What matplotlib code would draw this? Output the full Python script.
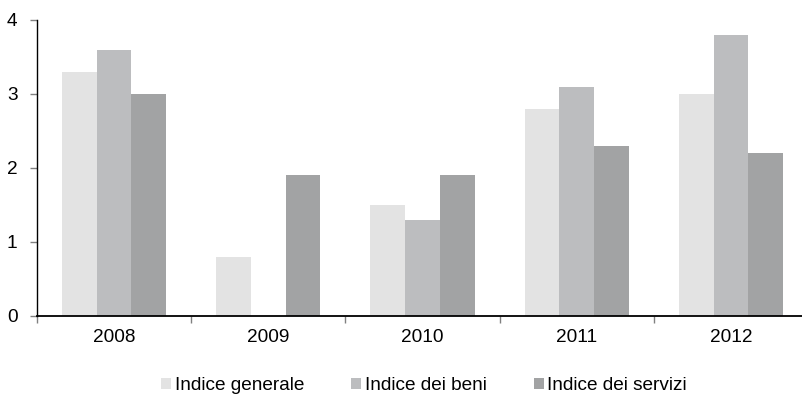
import matplotlib
matplotlib.use("Agg")
import matplotlib.pyplot as plt
import numpy as np

plt.rcParams['font.family'] = ['Liberation Sans', 'DejaVu Sans']

years = ["2008", "2009", "2010", "2011", "2012"]
series_names = ["Indice generale", "Indice dei beni", "Indice dei servizi"]
generale = [3.3, 0.8, 1.5, 2.8, 3.0]
beni = [3.6, 0.0, 1.3, 3.1, 3.8]
servizi = [3.0, 1.9, 1.9, 2.3, 2.2]
colors = ["#e3e3e3", "#bcbdbf", "#a2a3a4"]

fig = plt.figure(figsize=(8.02, 3.96), dpi=100)
ax = fig.add_axes([37/802, 80/396, 771/802, 296/396])

x = np.arange(len(years))
w = 0.225
for j, (vals, name) in enumerate(zip([generale, beni, servizi], series_names)):
    ax.bar(x + (j - 1) * w, vals, width=w, color=colors[j], label=name, linewidth=0)

ax.set_xlim(-0.5, len(years) - 0.5)
ax.set_ylim(0, 4)
ax.set_yticks([0, 1, 2, 3, 4])
ax.set_xticks(x)
ax.set_xticklabels(years)
ax.set_xticks(np.arange(-0.5, len(years), 1), minor=True)
ax.tick_params(axis='x', which='major', length=0, labelsize=13.7, pad=9, colors='black')
ax.tick_params(axis='x', which='minor', length=5, width=1, color='#808080')
ax.tick_params(axis='y', length=5, width=1, labelsize=13.7, pad=9, color='#808080')
for s in ['top', 'right']:
    ax.spines[s].set_visible(False)
ax.spines['left'].set_linewidth(1)
ax.spines['bottom'].set_linewidth(1.3)

handles, labels = ax.get_legend_handles_labels()
fig.legend(handles, labels, loc='lower center', bbox_to_anchor=(0.5287, 0.004), ncol=3,
           frameon=False, fontsize=13.7, handlelength=0.53, handleheight=0.47,
           handletextpad=0.18, columnspacing=2.47, borderpad=0, borderaxespad=0)

fig.savefig("out.png", dpi=100)
